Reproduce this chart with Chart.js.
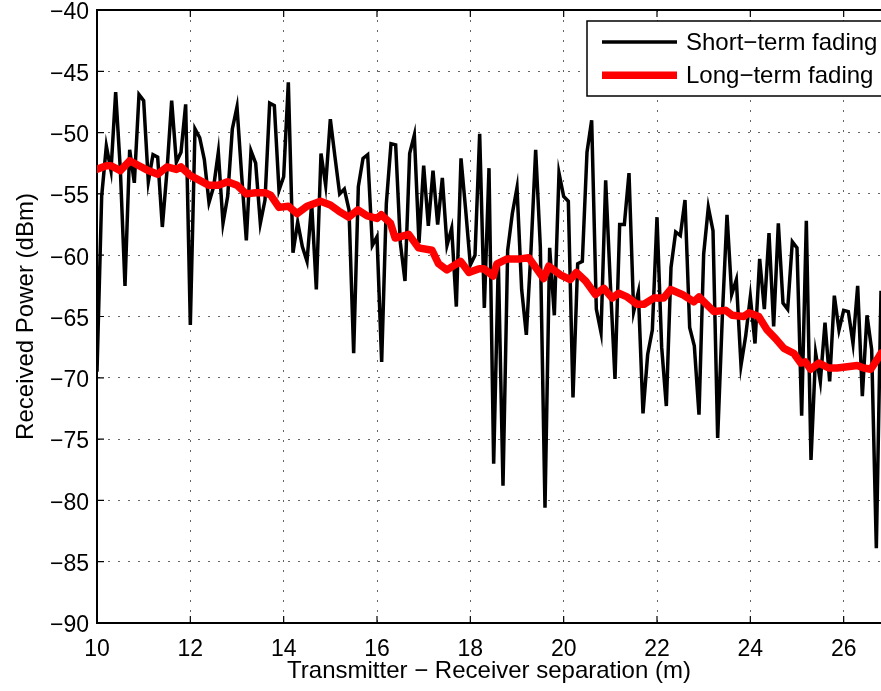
<!DOCTYPE html>
<html>
<head>
<meta charset="utf-8">
<script src="https://cdn.jsdelivr.net/npm/chart.js@4/dist/chart.umd.min.js"></script>
<style>
    html, body { margin: 0; padding: 0; background: #fff; }
    canvas { display: block; }
</style>
</head>
<body>
<canvas id="fadingChart" width="881" height="691"></canvas>
<script>
// Sample positions along the path (m)
const distance = [
    10.0, 10.1, 10.2, 10.3, 10.4, 10.5, 10.6, 10.7, 10.8, 10.9,
    11.0, 11.1, 11.2, 11.3, 11.4, 11.5, 11.6, 11.7, 11.8, 11.9,
    12.0, 12.1, 12.2, 12.3, 12.4, 12.5, 12.6, 12.7, 12.8, 12.9,
    13.0, 13.1, 13.2, 13.3, 13.4, 13.5, 13.6, 13.7, 13.8, 13.9,
    14.0, 14.1, 14.2, 14.3, 14.4, 14.5, 14.6, 14.7, 14.8, 14.9,
    15.0, 15.1, 15.2, 15.3, 15.4, 15.5, 15.6, 15.7, 15.8, 15.9,
    16.0, 16.1, 16.2, 16.3, 16.4, 16.5, 16.6, 16.7, 16.8, 16.9,
    17.0, 17.1, 17.2, 17.3, 17.4, 17.5, 17.6, 17.7, 17.8, 17.9,
    18.0, 18.1, 18.2, 18.3, 18.4, 18.5, 18.6, 18.7, 18.8, 18.9,
    19.0, 19.1, 19.2, 19.3, 19.4, 19.5, 19.6, 19.7, 19.8, 19.9,
    20.0, 20.1, 20.2, 20.3, 20.4, 20.5, 20.6, 20.7, 20.8, 20.9,
    21.0, 21.1, 21.2, 21.3, 21.4, 21.5, 21.6, 21.7, 21.8, 21.9,
    22.0, 22.1, 22.2, 22.3, 22.4, 22.5, 22.6, 22.7, 22.8, 22.9,
    23.0, 23.1, 23.2, 23.3, 23.4, 23.5, 23.6, 23.7, 23.8, 23.9,
    24.0, 24.1, 24.2, 24.3, 24.4, 24.5, 24.6, 24.7, 24.8, 24.9,
    25.0, 25.1, 25.2, 25.3, 25.4, 25.5, 25.6, 25.7, 25.8, 25.9,
    26.0, 26.1, 26.2, 26.3, 26.4, 26.5, 26.6, 26.7, 26.8
];

// Received power with small-scale fading (dBm)
const shortTerm = [
    -69.5, -55.2, -51.1, -53.1, -46.7, -53.0, -62.5, -51.4, -54.1, -46.9,
    -47.4, -54.0, -51.8, -52.0, -57.7, -53.1, -47.4, -52.4, -51.6, -47.7,
    -65.7, -49.7, -50.4, -52.2, -55.7, -54.4, -51.6, -57.4, -55.2, -49.7,
    -47.9, -53.5, -58.8, -51.5, -52.5, -57.4, -55.5, -47.6, -47.8, -54.7,
    -53.6, -45.9, -59.8, -57.3, -59.3, -60.5, -55.8, -62.8, -51.7, -54.3,
    -48.9, -52.0, -55.0, -54.6, -56.3, -68.0, -54.4, -52.1, -51.8, -59.2,
    -58.5, -68.7, -55.8, -50.9, -51.0, -59.0, -62.1, -51.7, -50.2, -59.0,
    -52.7, -57.6, -53.1, -57.5, -53.7, -59.2, -57.8, -64.2, -52.1, -56.3,
    -60.8, -60.0, -50.1, -64.3, -52.9, -77.0, -60.5, -78.8, -59.6, -56.6,
    -54.5, -62.8, -66.5, -59.6, -51.4, -59.3, -80.6, -59.4, -64.9, -53.3,
    -55.2, -55.6, -71.6, -60.7, -60.5, -51.6, -49.0, -64.4, -66.3, -53.9,
    -62.3, -70.1, -57.5, -57.5, -53.3, -64.6, -63.0, -72.9, -68.1, -66.1,
    -56.9, -67.5, -72.3, -61.0, -58.1, -58.4, -55.5, -65.9, -67.4, -73.0,
    -59.9, -56.1, -58.0, -74.9, -65.0, -56.7, -63.2, -62.0, -69.0, -66.6,
    -63.4, -67.2, -60.3, -64.4, -58.2, -65.8, -57.4, -63.9, -64.4, -58.9,
    -59.4, -73.1, -57.2, -76.7, -68.0, -70.3, -65.5, -70.3, -63.3, -66.1,
    -64.5, -64.6, -67.2, -62.5, -71.5, -64.9, -67.7, -83.9, -62.9
];

// Smoothed (large-scale) power level
const longDistance = [
    10.00, 10.20, 10.30, 10.50, 10.70, 10.90, 11.10, 11.30, 11.50, 11.70,
    11.80, 12.00, 12.20, 12.40, 12.60, 12.80, 13.00, 13.20, 13.40, 13.60,
    13.72, 13.90, 14.10, 14.29, 14.50, 14.79, 15.00, 15.18, 15.39, 15.59,
    15.79, 16.00, 16.09, 16.29, 16.39, 16.68, 16.89, 17.18, 17.32, 17.50,
    17.79, 17.97, 18.19, 18.29, 18.49, 18.57, 18.79, 19.07, 19.25, 19.57,
    19.68, 19.93, 20.14, 20.27, 20.47, 20.68, 20.86, 21.04, 21.18, 21.36,
    21.57, 21.72, 21.93, 22.14, 22.29, 22.54, 22.79, 22.90, 23.22, 23.47,
    23.61, 23.86, 23.97, 24.18, 24.36, 24.54, 24.72, 24.93, 25.08, 25.18,
    25.29, 25.47, 25.68, 25.86, 26.08, 26.29, 26.43, 26.58, 26.72, 26.80
];
const longTerm = [
    -53.0, -52.7, -52.7, -53.1, -52.3, -52.7, -53.1, -53.4, -52.8, -53.0,
    -52.8, -53.5, -53.9, -54.3, -54.3, -54.0, -54.3, -55.0, -54.9, -54.9,
    -55.1, -56.1, -56.0, -56.6, -56.0, -55.6, -55.9, -56.4, -56.9, -56.3,
    -56.8, -57.0, -56.7, -57.4, -58.6, -58.3, -59.4, -59.6, -60.7, -61.2,
    -60.5, -61.4, -61.1, -61.1, -61.7, -60.7, -60.3, -60.3, -60.2, -61.9,
    -60.9, -61.6, -62.0, -61.4, -62.1, -63.2, -62.7, -63.5, -63.1, -63.4,
    -64.0, -64.0, -63.5, -63.5, -62.8, -63.2, -63.8, -63.4, -64.6, -64.5,
    -64.9, -65.0, -64.7, -65.0, -66.1, -66.8, -67.6, -68.0, -68.8, -68.7,
    -69.3, -68.8, -69.2, -69.2, -69.1, -69.0, -69.2, -69.3, -68.5, -68.0
];

const xTicks = [10, 12, 14, 16, 18, 20, 22, 24, 26];
const yTicks = [-90, -85, -80, -75, -70, -65, -60, -55, -50, -45, -40];

const FONT = '"Liberation Sans", Arial, Helvetica, sans-serif';
const minus = v => String(v).replace('-', '\u2212');

// MATLAB-style box: top edge plus inward tick marks on the frame
const axesFrame = {
    id: 'axesFrame',
    afterDatasetsDraw(chart) {
        const {ctx, chartArea: a, scales} = chart;
        const len = 7;
        ctx.save();
        ctx.strokeStyle = '#000';
        ctx.lineWidth = 2;
        ctx.beginPath();
        ctx.moveTo(a.left - 1, a.top);
        ctx.lineTo(a.right + 1, a.top);
        ctx.stroke();

        ctx.lineWidth = 1.2;
        ctx.beginPath();
        scales.x.ticks.forEach(t => {
            const px = scales.x.getPixelForValue(t.value);
            ctx.moveTo(px, a.bottom);
            ctx.lineTo(px, a.bottom - len);
            ctx.moveTo(px, a.top);
            ctx.lineTo(px, a.top + len);
        });
        scales.y.ticks.forEach(t => {
            const py = scales.y.getPixelForValue(t.value);
            ctx.moveTo(a.left, py);
            ctx.lineTo(a.left + len, py);
        });
        ctx.stroke();
        ctx.restore();
    }
};

// boxed legend in the upper right corner of the plot
const boxLegend = {
    id: 'boxLegend',
    afterDraw(chart) {
        const {ctx, chartArea: a} = chart;
        const left = a.right - 294;
        const top = a.top + 11;
        const rowH = 33.3;
        ctx.save();
        ctx.fillStyle = '#fff';
        ctx.strokeStyle = '#000';
        ctx.lineWidth = 1.5;
        ctx.fillRect(left, top, 340, 75);
        ctx.strokeRect(left, top, 340, 75);

        ctx.font = '24px ' + FONT;
        ctx.textBaseline = 'middle';
        ctx.textAlign = 'left';
        chart.data.datasets.forEach((ds, i) => {
            const y = top + 21 + i * rowH;
            ctx.strokeStyle = ds.borderColor;
            ctx.lineWidth = ds.borderWidth;
            ctx.beginPath();
            ctx.moveTo(left + 15, y);
            ctx.lineTo(left + 90, y);
            ctx.stroke();
            ctx.fillStyle = '#000';
            ctx.fillText(ds.label, left + 99, y + 1);
        });
        ctx.restore();
    }
};

const gridStyle = {
    color: 'rgba(0, 0, 0, 0.6)',
    lineWidth: 1,
    drawTicks: false
};

const chartConfig = {
    type: 'line',
    data: {
        datasets: [
            {
                label: 'Short\u2212term fading',
                data: distance.map((d, i) => ({x: d, y: shortTerm[i]})),
                borderColor: '#000000',
                borderWidth: 3.5,
                pointRadius: 0,
                tension: 0,
                order: 1
            },
            {
                label: 'Long\u2212term fading',
                data: longDistance.map((d, i) => ({x: d, y: longTerm[i]})),
                borderColor: '#ff0000',
                borderWidth: 7.5,
                borderJoinStyle: 'round',
                borderCapStyle: 'round',
                pointRadius: 0,
                tension: 0,
                order: 0
            }
        ]
    },
    options: {
        responsive: false,
        animation: false,
        events: [],
        layout: {padding: {top: 10, right: 0, left: 0, bottom: 0}},
        plugins: {
            legend: {display: false},
            tooltip: {enabled: false}
        },
        scales: {
            x: {
                type: 'linear',
                min: 10,
                max: 26.8,
                afterBuildTicks: scale => { scale.ticks = xTicks.map(v => ({value: v})); },
                afterFit: scale => {
                    scale.height = 68;
                    scale.paddingLeft = 0;
                    scale.paddingRight = 0;
                },
                grid: gridStyle,
                border: {display: true, color: '#000', width: 2, dash: [2, 8]},
                ticks: {
                    color: '#000',
                    font: {family: FONT, size: 23},
                    padding: 13,
                    maxRotation: 0,
                    callback: v => minus(v)
                },
                title: {
                    display: true,
                    text: 'Transmitter \u2212 Receiver separation (m)',
                    color: '#000',
                    font: {family: FONT, size: 24},
                    padding: {top: 0, bottom: 5}
                }
            },
            y: {
                min: -90,
                max: -40,
                afterBuildTicks: scale => { scale.ticks = yTicks.map(v => ({value: v})); },
                afterFit: scale => {
                    scale.width = 97;
                    scale.paddingTop = 0;
                    scale.paddingBottom = 0;
                },
                grid: gridStyle,
                border: {display: true, color: '#000', width: 2, dash: [2, 8]},
                ticks: {
                    color: '#000',
                    font: {family: FONT, size: 23},
                    padding: 8,
                    labelOffset: 3,
                    callback: v => minus(v)
                },
                title: {
                    display: true,
                    text: 'Received Power (dBm)',
                    color: '#000',
                    font: {family: FONT, size: 24},
                    padding: {top: 12, bottom: 0}
                }
            }
        }
    },
    plugins: [axesFrame, boxLegend]
};

let chartID = document.getElementById('fadingChart');
let chart = new Chart(chartID, chartConfig);
</script>
</body>
</html>
